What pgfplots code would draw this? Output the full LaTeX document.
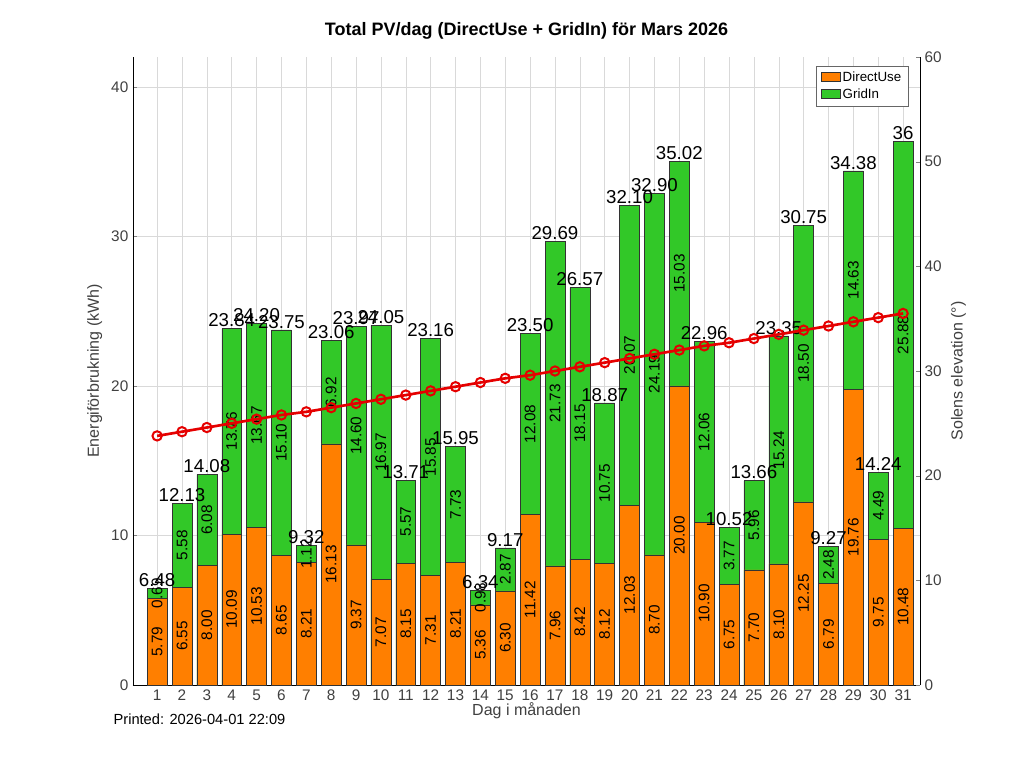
\documentclass[border=0pt]{standalone}
\usepackage{pgfplots}
\usepackage{pgfplotstable}
\pgfplotsset{compat=1.18}
\usepackage{fontspec}
\setmainfont{Liberation Sans}
\definecolor{du}{RGB}{255,127,0}
\definecolor{gi}{RGB}{50,200,40}
\pgfplotstableread{
x d g t dc gc dl gl tl
1 5.79 0.69 6.48 2.895 6.135 5.79 0.69 6.48
2 6.55 5.58 12.13 3.275 9.34 6.55 5.58 12.13
3 8.00 6.08 14.08 4.00 11.04 8.00 6.08 14.08
4 10.09 13.75 23.84 5.045 16.965 10.09 13.76 23.84
5 10.53 13.67 24.20 5.265 17.365 10.53 13.67 24.20
6 8.65 15.10 23.75 4.325 16.20 8.65 15.10 23.75
7 8.21 1.12 9.32 4.105 8.77 8.21 1.12 9.32
8 16.13 6.92 23.06 8.065 19.59 16.13 6.92 23.06
9 9.37 14.60 23.97 4.685 16.67 9.37 14.60 23.97
10 7.07 16.97 24.05 3.535 15.555 7.07 16.97 24.05
11 8.15 5.57 13.71 4.075 10.935 8.15 5.57 13.71
12 7.31 15.85 23.16 3.655 15.235 7.31 15.85 23.16
13 8.21 7.73 15.95 4.105 12.075 8.21 7.73 15.95
14 5.36 0.98 6.34 2.68 5.85 5.36 0.98 6.34
15 6.30 2.87 9.17 3.15 7.735 6.30 2.87 9.17
16 11.42 12.08 23.50 5.71 17.46 11.42 12.08 23.50
17 7.96 21.73 29.69 3.98 18.825 7.96 21.73 29.69
18 8.42 18.15 26.57 4.21 17.495 8.42 18.15 26.57
19 8.12 10.75 18.87 4.06 13.495 8.12 10.75 18.87
20 12.03 20.07 32.10 6.015 22.065 12.03 20.07 32.10
21 8.70 24.19 32.90 4.35 20.795 8.70 24.19 32.90
22 20.00 15.03 35.02 10.00 27.515 20.00 15.03 35.02
23 10.90 12.06 22.96 5.45 16.93 10.90 12.06 22.96
24 6.75 3.77 10.52 3.375 8.635 6.75 3.77 10.52
25 7.70 5.96 13.66 3.85 10.68 7.70 5.96 13.66
26 8.10 15.24 23.35 4.05 15.72 8.10 15.24 23.35
27 12.25 18.50 30.75 6.125 21.50 12.25 18.50 30.75
28 6.79 2.48 9.27 3.395 8.03 6.79 2.48 9.27
29 19.76 14.63 34.38 9.88 27.075 19.76 14.63 34.38
30 9.75 4.49 14.24 4.875 11.995 9.75 4.49 14.24
31 10.48 25.88 36.36 5.24 23.42 10.48 25.88 36
}\data
\pgfplotstableread{
x e
1 23.8
2 24.2
3 24.6
4 25.0
5 25.4
6 25.8
7 26.1
8 26.5
9 26.9
10 27.3
11 27.7
12 28.1
13 28.5
14 28.9
15 29.3
16 29.6
17 30.0
18 30.4
19 30.8
20 31.2
21 31.6
22 32.0
23 32.4
24 32.7
25 33.1
26 33.5
27 33.9
28 34.3
29 34.7
30 35.1
31 35.5
}\elev
\begin{document}
\begin{tikzpicture}[font=\fontsize{12}{14}\selectfont]
\useasboundingbox (-99.75pt,-62.25pt) rectangle (668.25pt,513.75pt);
\begin{axis}[
  at={(0,0)}, anchor=south west,
  scale only axis, width=590.25pt, height=471pt,
  xmin=0.03, xmax=31.68, ymin=0, ymax=42,
  xtick={1,...,31}, ytick={0,10,20,30,40},
  /pgf/number format/assume math mode=true,
  grid=major, major grid style={gray!30},
  tick align=inside, major tick length=3pt,
  tick label style={font=\fontsize{11.5}{13}\selectfont, text=black!75},
  axis y line*=left,
  axis x line*=bottom,
  ylabel={Energiförbrukning (kWh)}, ylabel style={text=black!75, font=\fontsize{12}{14}\selectfont},
  xlabel={Dag i månaden}, xlabel style={text=black!75, yshift=5pt, font=\fontsize{12}{14}\selectfont},
  title={\bfseries Total PV/dag (DirectUse + GridIn) för Mars 2026},
  title style={yshift=4pt, font=\fontsize{13.5}{15}\selectfont},
  legend style={at={(0.985,0.985)}, anchor=north east, font=\fontsize{10}{12}\selectfont, cells={anchor=west}, draw=black!60},
  legend image code/.code={\draw[#1] (0cm,-0.1cm) rectangle (0.5cm,0.15cm);},
  clip=false,
]
\addplot[ybar, bar width=0.8, bar shift=0pt, fill=gi, draw=black!80, forget plot] table[x=x,y=t]{\data};
\addplot[ybar, bar width=0.8, bar shift=0pt, fill=du, draw=black!80, forget plot] table[x=x,y=d]{\data};
\addlegendimage{fill=du, draw=black!80}\addlegendentry{DirectUse}
\addlegendimage{fill=gi, draw=black!80}\addlegendentry{GridIn}
\addplot[draw=none, forget plot, nodes near coords, point meta=explicit symbolic,
  nodes near coords style={rotate=90, anchor=center, font=\fontsize{11.5}{13}\selectfont}] table[x=x,y=dc,meta=dl]{\data};
\addplot[draw=none, forget plot, nodes near coords, point meta=explicit symbolic,
  nodes near coords style={rotate=90, anchor=center, font=\fontsize{11.5}{13}\selectfont}] table[x=x,y=gc,meta=gl]{\data};
\addplot[draw=none, forget plot, nodes near coords, point meta=explicit symbolic,
  nodes near coords style={anchor=south, inner sep=1pt, font=\fontsize{14}{16}\selectfont}] table[x=x,y=t,meta=tl]{\data};
\node[anchor=north west, font=\fontsize{11}{13}\selectfont, inner sep=0pt] at (rel axis cs:-0.025,-0.045) {Printed: 2026-04-01 22:09};
\end{axis}
\begin{axis}[
  at={(0,0)}, anchor=south west,
  scale only axis, width=590.25pt, height=471pt,
  xmin=0.03, xmax=31.68, ymin=0, ymax=60,
  axis y line*=right, axis x line=none,
  ytick={0,10,...,60},
  /pgf/number format/assume math mode=true,
  tick align=inside, major tick length=3pt,
  tick label style={font=\fontsize{11.5}{13}\selectfont, text=black!75},
  ylabel={Solens elevation (°)}, ylabel style={text=black!75, font=\fontsize{12}{14}\selectfont},
]
\addplot[red!90!black, line width=2pt, mark=o, mark size=3.5pt, mark options={line width=1.5pt}] table[x=x,y=e]{\elev};
\end{axis}
\end{tikzpicture}
\end{document}
